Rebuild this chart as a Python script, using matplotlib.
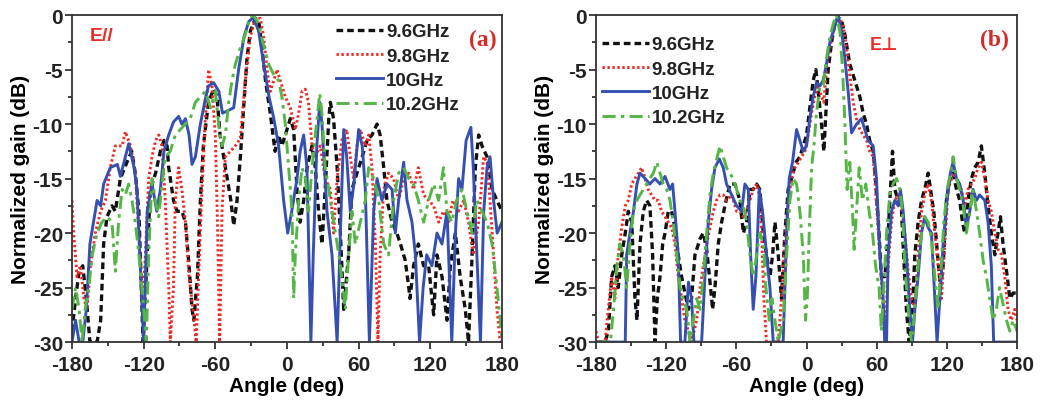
import matplotlib
matplotlib.use("Agg")
import matplotlib.pyplot as plt
from matplotlib.ticker import MultipleLocator

plt.rcParams["font.family"] = ["Liberation Sans", "DejaVu Sans"]
plt.rcParams["font.weight"] = "bold"
plt.rcParams["axes.unicode_minus"] = False

# ---------------- Panel (a): E// radiation patterns ----------------
a96_ang = [-180, -177, -174, -171, -168, -165, -162, -159, -156, -153.5, -150.7, -146.5, -143.7,
           -139.5, -134, -130, -127, -124, -120.5, -117, -114.4, -110, -106, -103, -100.4, -99, -95,
           -92, -88, -85, -82, -79.5, -78, -75, -72.5, -70, -65.7, -61.4, -58.6, -56, -53, -50, -47,
           -44.6, -41.8, -39, -36, -33.5, -30.7, -26.5, -23.7, -21, -18, -14, -10, -7, -4.3, -1.4,
           2.8, 5.6, 8.4, 11, 14, 16.8, 21, 23.7, 26.5, 29.3, 32, 35, 36.3, 39, 42, 44.7, 47.5, 51.6,
           54.4, 58.6, 63, 67, 71.2, 75.4, 78, 81, 83.7, 88, 92, 95, 99, 102, 103, 106, 110, 114.4,
           118.6, 122.8, 125.6, 129.8, 134, 136.8, 141, 145, 149.3, 152, 155, 157.7, 160.5, 163.3,
           167.5, 171.7, 175.8, 180]
a96_db = [-29, -26, -23.5, -23, -26, -30, -30, -30, -28, -21, -18.5, -17.5, -18,
          -15, -13.5, -12.5, -14.5, -18, -30, -22, -16, -14.5, -12.5, -11.5, -12, -14, -17,
          -18, -18, -19, -23, -27, -28, -24, -17, -12, -8, -6.8, -7.5, -11, -13, -15, -17,
          -19.3, -17, -13, -8, -4, -1.5, -0.3, -0.5, -3, -6, -9, -12.5, -11, -12, -11,
          -9.5, -10.5, -16, -19, -17, -14, -12, -14, -18, -21, -16, -9.5, -8, -9.5, -14, -20, -27, -22,
          -16, -14.5, -13, -11.5, -11, -10, -11, -14, -17, -19, -20, -21, -22.5, -25, -26, -23, -21, -23,
          -23, -27.5, -22, -24, -28, -23, -20, -24, -27, -30, -22, -14, -11, -12,
          -13, -16, -17, -18]

a98_ang = [-180, -178.6, -175.8, -173, -170, -167.4, -164.6, -160.5, -156, -152, -148, -143.7, -138,
           -135.3, -131, -127, -124, -121, -118.6, -115.8, -113, -110, -107.4, -104.6, -101.9, -99,
           -97.7, -95, -93.5, -90.7, -88, -85, -82, -78.7, -76, -74, -71.2, -68.4, -65.6, -62.8, -60,
           -58, -56.4, -54.4, -51.6, -47.4, -43.2, -39, -34.9, -30.7, -26.5, -22.3, -19.5, -16.7, -14,
           -11, -8.4, -5.6, -1.4, 2.8, 7, 9.8, 12.6, 15.4, 18, 21, 23.7, 27.9, 32, 36.3, 39, 42, 46, 50,
           53, 55.8, 58.6, 61.4, 65.6, 68.4, 71.2, 74, 76.2, 78, 81, 85, 89.3, 93.5, 97.7, 102, 106,
           110, 114.4, 118.6, 122.8, 127, 131, 135, 139, 143.6, 148, 152, 156, 160.5, 164.7, 167.5,
           170, 173, 175.8, 178.6, 180]
a98_db = [-17, -20, -24, -23, -26, -27, -23, -20, -18, -17, -14, -12, -12,
          -10.7, -12, -14.5, -20, -27, -22, -15, -13, -11.5, -11, -12, -17, -25,
          -30, -25, -17, -14, -16, -19, -24, -27, -30, -24, -16, -9.5, -5, -6.5, -11,
          -20, -30, -18, -13, -12.5, -12, -11.3, -6, -2, -0.3, -0.3, -2, -5, -7,
          -6, -5, -6, -7.5, -8.5, -10.5, -9, -7, -6.8, -8, -12, -13, -12, -15, -16, -20, -15, -11.5, -10.5,
          -13, -15, -12, -10.5, -12, -11, -14, -21, -30, -22, -16, -14.5, -15, -17, -15, -14.5, -16,
          -14, -16.5, -17, -17.5, -19, -18, -19, -17, -18, -17, -19, -22, -19, -13, -13.5,
          -17, -22, -27, -30, -30]

a100_ang = [-180, -177, -174, -171, -168, -165, -162, -159, -156, -153.5, -148, -142, -139.5, -132.5,
            -128, -125.6, -120, -117, -113, -109, -106, -103, -99, -95, -90.7, -88, -85, -82, -79.5,
            -76.7, -72.5, -68, -65.7, -61.4, -57, -54, -50, -44.6, -40.5, -36, -32, -28, -23.7, -19.5,
            -15, -11, -7, -2.8, 0.6, 4, 8.4, 11, 14, 16.7, 20, 22, 25, 27.4, 29.3, 33.5, 37.7, 42,
            44.7, 47.5, 50, 53, 56, 60, 63, 65.6, 69, 72.6, 75.4, 79.5, 83.7, 88, 90.7, 93.5, 97.7,
            100.5, 104.7, 107.5, 111, 114, 117, 121.4, 125.6, 129.8, 134, 138, 141, 143.7, 146.5,
            150, 154, 156, 159, 162, 164.7, 167.5, 170, 173, 176, 180]
a100_db = [-30, -28, -30, -30, -27, -21, -19, -17, -17.5, -15.5, -14, -13.7, -14.8, -11.8,
           -14, -16, -30, -18, -15.5, -18, -16, -12.5, -11, -9.8, -9.3, -10, -9.5, -11, -13.7,
           -13, -10, -7.5, -6.5, -6.2, -7, -9, -8.8, -8.5, -5, -2, -0.6, -0.2, -1.5, -4.5,
           -7.5, -9.5, -12, -17, -20, -18, -15, -12.5, -11, -14, -30, -22, -12, -8, -10, -18, -22, -30,
           -20, -10.5, -13, -18, -15.5, -10.5, -12, -16, -30, -18, -15, -17, -15.5, -16, -20, -17, -13.5,
           -17, -19, -22, -30, -25, -22, -23, -20, -21, -18, -30, -20, -15, -16,
           -11.5, -10.3, -14, -22, -30, -18, -14, -13, -17, -20, -19]

a102_ang = [-180, -177, -174, -171.6, -169, -166, -163, -159, -155, -150.7, -146.5, -143.7, -141, -138,
            -135.3, -132.6, -129.8, -127, -124, -120.6, -117.8, -115.8, -113, -110.2, -107.4, -104.6,
            -101.9, -97.7, -93.5, -89.3, -85, -81, -76.7, -72.5, -68.4, -64, -60, -57.2, -54.4, -51.6,
            -48.8, -46, -43.2, -39, -34.9, -31.2, -28, -23.7, -19.5, -15.3, -11, -7, -4.3, -1.4, 1.4,
            4.2, 5.6, 7, 9.8, 12.6, 15.4, 18, 21, 23.7, 27.4, 29.3, 32, 35, 37.7, 42, 44.7, 48.8, 51.6,
            54.4, 57.2, 61.4, 65.6, 68.4, 72.6, 76.8, 81, 85, 89.3, 93.5, 97.7, 102, 106, 110, 114.4,
            118.6, 122.8, 127, 131, 134, 138, 142, 146.6, 150.7, 155, 159, 163.3, 167.5, 171.7, 175.8,
            178.6, 180]
a102_db = [-27, -25, -27, -30, -27, -25, -22, -20, -19, -18.5, -19, -23.5, -19, -16,
           -16.5, -15.5, -17, -19, -22, -26, -30, -22, -15, -17, -18.5, -15.5,
           -13, -12.5, -11, -10.5, -10, -9.5, -8, -7.5, -7, -8.5, -7, -10, -12, -11,
           -8, -6, -4.5, -3, -1.8, -0.2, 0, -0.8, -2.8, -4.5, -5.5, -6, -7.5, -10, -14,
           -18, -26, -22, -17, -14, -15, -18, -14, -11, -7.2, -9, -14, -16, -18, -21, -23, -27, -22,
           -18, -21, -19, -17, -14, -15, -17, -21, -22, -17, -14.5, -14, -15, -15.5, -17, -19,
           -17, -15.5, -17, -14, -18, -19, -17, -16, -18, -20, -17, -18, -19, -21, -25,
           -28, -30]

# ---------------- Panel (b): E-perpendicular radiation patterns ----------------
b96_ang = [-180, -172.3, -169.5, -166.6, -163.8, -161, -158, -155, -152.4, -149.5, -146.7, -145,
           -142.4, -139.6, -136.7, -133.9, -131.6, -129.6, -127.6, -125.3, -123, -121, -118.2, -115.4,
           -112.5, -109.7, -106.8, -104, -101, -98.3, -95.4, -91, -88.3, -85.4, -83, -80.3, -78.3,
           -75.5, -72.6, -69.8, -65.5, -61.2, -57, -54, -51.3, -48.4, -45.6, -42.7, -39.9, -37, -34.2,
           -31.3, -29, -27, -24.2, -21.4, -18.5, -15.7, -12.8, -9, -5.7, -2.8, 0, 2.8, 5.7, 8, 10,
           12.8, 14.8, 16.5, 18.5, 21.4, 24.2, 27, 30, 32.8, 37, 41.3, 45.6, 48.4, 51.3, 54, 57, 59,
           62, 64, 67, 69.8, 71.8, 73.5, 75.5, 78.3, 81, 83, 85.4, 87.7, 90.6, 92.6, 95.4, 98.3, 101,
           104, 106, 108.8, 111.6, 114.5, 116.8, 119.6, 122.5, 125.3, 128.2, 131, 133.3, 135.3, 138,
           141, 143.8, 146.7, 149.5, 152.4, 155.2, 158, 161, 163, 165.8, 168, 171, 173.8, 176.7, 180]
b96_db = [-30, -30, -29, -24, -23, -25, -22, -20, -18, -19, -26, -28,
          -21, -18, -17, -17.5, -22, -30, -26, -24, -21, -20, -18, -18,
          -19.5, -22, -24, -25.5, -27, -26, -22, -20.5, -20, -21.5, -24, -27, -25,
          -21, -19, -17.5, -15.5, -15.5, -17, -20, -19, -16, -16, -15.5, -16, -20, -22,
          -24, -22, -19, -22, -26, -20, -16, -15, -13.5, -13, -12, -11, -8.5, -6, -5, -7,
          -10, -12.5, -9, -5, -2.5, -0.8, -0.2, -0.5, -1.8, -4.5, -6, -7.5, -9, -10, -11.5, -12.5, -15,
          -20, -24, -24, -20, -16, -12.5, -16, -17, -17.5, -22, -27, -30, -27, -22, -19, -17, -16,
          -14.5, -16, -18, -21.5, -25, -23, -17, -15, -14.5, -16, -17, -19, -20, -17,
          -15, -14, -13.5, -12, -14.5, -17.5, -20, -22, -20.5, -18.5, -21, -23.5, -26, -25.5, -25.5]

b98_ang = [-180, -178, -172.3, -169.5, -166.6, -163.8, -161, -158, -155, -152.4, -149.5, -146.7,
           -143.8, -141, -138, -135.3, -132.5, -129.6, -126.8, -124, -121, -118.2, -115.4, -112.5,
           -109.7, -106.8, -104, -101, -98.3, -94, -91, -88.3, -85.4, -82.6, -79.7, -77, -74, -71.2,
           -68.4, -64, -59.8, -57, -54, -51.3, -48.4, -45.6, -42.7, -40.4, -38.4, -36.5, -34.2, -24.2,
           -21.4, -18.5, -15.7, -12.8, -10, -7, -4.3, -1.4, 1.4, 4.3, 7, 10, 12.8, 14.8, 17, 20, 22.8,
           25.6, 28.5, 31.3, 34.2, 37, 39.9, 42.7, 45.6, 48.4, 51.3, 54, 57, 59, 62, 65, 67, 69.8,
           72.6, 75.5, 78.3, 81, 84, 86.9, 89.7, 92.6, 95.4, 98.3, 101, 104, 106.8, 109.7, 112.5,
           115.4, 118.2, 121, 124, 126.7, 129.6, 132.4, 135.3, 138, 141, 143.8, 146.7, 149.5, 152.4,
           155.2, 158, 161, 163.8, 166.7, 169.5, 172.3, 175, 178, 180]
b98_db = [-29, -30, -30, -27, -24, -26, -22, -19.5, -17.5, -17, -15.5, -15,
          -14.5, -14, -15, -16, -16.5, -17, -17, -18, -18.5, -19, -19.5, -21,
          -24, -26, -28, -29, -30, -28, -25, -23, -21, -19.5, -18, -17, -16.5, -16.5,
          -17, -16.5, -18, -18, -18.5, -18, -17, -16, -15.5, -16.5, -20, -26, -30, -30,
          -26, -21, -17, -15, -14, -13.5, -13, -12.5, -11, -9, -7.5, -6.5, -7.5, -8, -5, -3, -1.5,
          -0.5, -0.3, -1, -3, -5.5, -8, -9.5, -10.5, -11, -11.5, -12.5, -13, -16, -21, -26, -30, -23,
          -19, -17, -16.5, -17.5, -20, -23.5, -26, -27, -22, -18, -16.5, -15.5, -17, -20, -23,
          -26, -21, -16, -15, -14.5, -15.5, -16, -17.5, -16, -15.5, -15, -14, -13.5, -15,
          -17, -18, -20, -21.5, -22, -24, -27, -28, -27, -28]

b100_ang = [-180, -155, -153.8, -151, -148, -145, -142.4, -138, -134, -129.6, -125.3, -121, -116.8,
            -114.5, -112.5, -109.7, -107.7, -104, -101, -98.3, -96.3, -89.7, -86.9, -84, -81.2,
            -78.3, -74.6, -71.2, -68.4, -64, -59.8, -55.5, -52.7, -49.8, -47.8, -45.6, -43.3, -40.4,
            -37.6, -34.2, -31.3, -28.5, -20, -17, -14.8, -12, -8.5, -5.7, -2.8, 0, 2.8, 5.7, 8.5,
            11.4, 14.2, 17, 20, 24.2, 27, 30, 32.8, 35.6, 38.5, 42.7, 47, 49.8, 52.7, 57, 59.8, 62.7,
            65.5, 66.9, 68.4, 69.8, 72.6, 75.5, 78.3, 80.3, 82.6, 85.4, 88.3, 90.6, 92.6, 95.4, 98.3,
            101, 104, 106.8, 109.7, 111.6, 114, 116.8, 119.6, 123, 125.3, 128.2, 131, 133.9, 136.7,
            139.6, 142.4, 145.3, 148, 152.4, 155.2, 158, 160, 180]
b100_db = [-30, -30, -22, -20, -18, -15.5, -14.5, -15, -15.5, -15, -15.5, -14.8, -16,
           -15.5, -18, -22, -30, -30, -24.5, -26, -30, -30, -24, -19, -16,
           -14, -13.2, -14, -15.5, -16.5, -17.5, -18, -15.5, -16, -22, -27, -24, -16,
           -18, -22, -25, -30, -30, -20, -15, -13.5, -10.5, -11.5, -12.5, -12, -9.5, -7.5, -6.2,
           -6.5, -6, -4.5, -2.5, -1, 0, -1.5, -4, -7, -10.8, -10, -9.5, -10.5, -11.5, -12, -15, -22,
           -26, -30, -30, -22, -18, -17, -17.5, -16, -18, -22, -27, -30, -27, -24, -20,
           -18.5, -19.5, -20, -26, -30, -26, -21, -17.5, -14.5, -13.5, -15, -15.5, -17, -19.5,
           -18, -16, -17, -16.5, -17, -19, -23, -30, -30]

b102_ang = [-180, -167.7, -165, -162.3, -159.5, -156.6, -153.8, -151, -148, -145, -142.4, -139.6,
            -136.7, -134, -131, -128, -125.3, -122.5, -119.6, -116.8, -114, -111, -108.2, -105.4,
            -102.5, -99.7, -96.8, -94, -91, -88.3, -85.4, -82.6, -79.7, -76.3, -74, -71.2, -68.4,
            -65.5, -62.7, -59.8, -57, -54, -51.3, -48.4, -45.6, -42.7, -39.9, -37, -34.7, -31.9, -29.6,
            -27, -24.2, -20, -17, -14.2, -11.4, -8.5, -5.7, -2.8, -0.9, 0.6, 2.3, 4.3, 6.3, 8.5, 11.4,
            14.2, 17, 20, 22.8, 25.6, 28.5, 30.8, 32.8, 34.7, 37, 39.3, 40.7, 42.7, 45, 47.8, 50.7,
            53.5, 56.4, 59, 62, 64, 66, 68.4, 71.2, 74, 77, 79.7, 82, 84, 86.9, 89.7, 92.6, 95.4,
            98.3, 101, 104, 106.8, 109.7, 112.5, 114.5, 117.4, 120.2, 123, 125.3, 128.2, 131, 133.9,
            136.7, 139.6, 142.4, 145.3, 148, 151, 153.8, 156.6, 159.5, 162.3, 165, 168, 171, 173.8,
            176.7, 180]
b102_db = [-30, -30, -27, -23, -21, -22, -25, -21, -18, -17, -16.5, -16,
           -15.5, -15, -14.5, -13.5, -14.5, -15.5, -16, -17, -19, -22, -25, -26,
           -27, -30, -28, -26, -27, -24, -20, -16.5, -14.5, -13, -12, -13, -14,
           -14.5, -15, -16, -17, -17.5, -19, -22, -24, -22, -20, -21, -25, -28, -26,
           -28, -30, -28, -22, -17, -15, -15.5, -18, -22, -28, -26, -20, -14, -12, -9, -6.5,
           -6.5, -4, -2, -0.8, 0, -1.5, -5, -10, -16, -13.5, -18, -21.5, -18, -14, -17, -15.5,
           -18, -20, -23, -25, -29, -25, -20, -16.5, -15.5, -15, -16, -18, -23, -27, -30, -27, -23,
           -20, -18.5, -19, -20.5, -24, -27, -24, -19, -16, -14.5, -13, -15, -16, -17.5,
           -20, -18, -16, -18, -20, -22.5, -24, -26, -28, -27, -25, -26.5, -28, -29,
           -28, -29]

labels = ["9.6GHz", "9.8GHz", "10GHz", "10.2GHz"]
colors = ["#111111", "#ee2a24", "#3550b0", "#55b545"]
styles = [dict(linestyle=(0, (2.0, 1.2)), linewidth=2.4),
          dict(linestyle=(0, (0.8, 0.9)), linewidth=2.1),
          dict(linestyle="-", linewidth=2.1),
          dict(linestyle=(0, (4.5, 1.8, 1.2, 1.8)), linewidth=2.1)]

panel_a = [(a96_ang, a96_db), (a98_ang, a98_db), (a100_ang, a100_db), (a102_ang, a102_db)]
panel_b = [(b96_ang, b96_db), (b98_ang, b98_db), (b100_ang, b100_db), (b102_ang, b102_db)]

fig = plt.figure(figsize=(10.51, 4.06), dpi=100)
ax_a = fig.add_axes([0.0685, 0.155, 0.4091, 0.8054])
ax_b = fig.add_axes([0.5671, 0.155, 0.4006, 0.8054])


def style_axes(ax):
    ax.set_xlim(-180, 180)
    ax.set_ylim(-30, 0)
    ax.xaxis.set_major_locator(MultipleLocator(60))
    ax.xaxis.set_minor_locator(MultipleLocator(30))
    ax.yaxis.set_major_locator(MultipleLocator(5))
    ax.yaxis.set_minor_locator(MultipleLocator(2.5))
    ax.tick_params(which="both", direction="out", top=False, right=False,
                   colors="#222222", width=1.2)
    ax.tick_params(which="major", length=5, labelsize=15, pad=1.5)
    ax.tick_params(axis="x", which="major", pad=4)
    ax.tick_params(which="minor", length=3)
    for lab in ax.get_xticklabels() + ax.get_yticklabels():
        lab.set_fontweight("bold")
    for sp in ax.spines.values():
        sp.set_linewidth(1.3)
        sp.set_color("#333333")
    ax.set_xlabel("Angle (deg)", fontsize=15, fontweight="bold", labelpad=2)
    ax.set_ylabel("Normalized gain (dB)", fontsize=15, fontweight="bold", labelpad=2)


for ax, series in ((ax_a, panel_a), (ax_b, panel_b)):
    for (ang, db), lab, col, st in zip(series, labels, colors, styles):
        ax.plot(ang, db, color=col, label=lab, clip_on=True, **st)
    style_axes(ax)

leg_kw = dict(frameon=False, fontsize=13.5, handlelength=2.5, handletextpad=0.15,
              labelspacing=0.38, borderpad=0.0, borderaxespad=0.0)
la = ax_a.legend(loc="upper left", bbox_to_anchor=(0.615, 0.975), **leg_kw)
lb = ax_b.legend(loc="upper left", bbox_to_anchor=(0.014, 0.935), **leg_kw)
for leg in (la, lb):
    for t in leg.get_texts():
        t.set_fontweight("bold")
        t.set_color("#222222")

ax_a.text(-165, -1.9, "E//", color="#ee2a24", fontsize=14, fontweight="bold",
          ha="left", va="center")
ax_a.text(0.955, 0.925, "(a)", transform=ax_a.transAxes, color="#d42a2a",
          fontsize=17, fontweight="bold", family="Liberation Serif", ha="center", va="center")
ax_b.text(0.685, 0.91, "E\u22a5", transform=ax_b.transAxes, color="#ee2a24",
          fontsize=13, fontweight="bold", family=["Liberation Sans", "DejaVu Sans"],
          ha="center", va="center")
ax_b.text(0.947, 0.925, "(b)", transform=ax_b.transAxes, color="#d42a2a",
          fontsize=17, fontweight="bold", family="Liberation Serif", ha="center", va="center")

fig.savefig("out.png", dpi=100)
